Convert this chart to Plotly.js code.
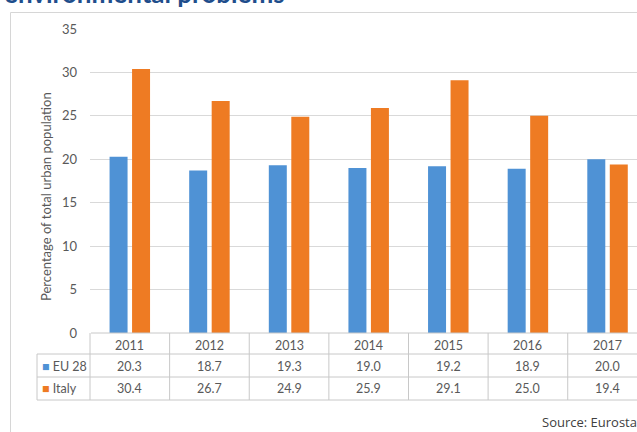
<!DOCTYPE html>
<html>
<head>
<meta charset="utf-8">
<script src="https://cdn.plot.ly/plotly-3.0.1.min.js"></script>
<style>html,body{margin:0;padding:0;background:#fff;overflow:hidden}#chart{width:637px;height:432px}</style>
</head>
<body>
<div id="chart"></div>
<script>
// ---- data ----
var years = ["2011", "2012", "2013", "2014", "2015", "2016", "2017"];
var eu28 = [20.3, 18.7, 19.3, 19.0, 19.2, 18.9, 20.0];
var italy = [30.4, 26.7, 24.9, 25.9, 29.1, 25.0, 19.4];
var seriesNames = ["EU 28", "Italy"];
var yTicks = [0, 5, 10, 15, 20, 25, 30, 35];

// ---- layout geometry ----
var W = 637, H = 432;
var mL = 90, mR = 0, mT = 29, mB = 99;
var PW = W - mL - mR, PH = H - mT - mB;
var xr = [-0.5, 6.37];
function pxX(px) { return (px - mL) / PW; }
function pxY(py) { return (mT + PH - py) / PH; }
function catX(c) { return (c - xr[0]) / (xr[1] - xr[0]); }

var blue = "#4f92d5", orange = "#ee7b23";
var txtCol = "#595959", lineCol = "#c8c8c8";
var fnt = "Lato, 'Open Sans', sans-serif";

var x = years.map(function (d, i) { return i; });

var traces = [
  { type: "bar", name: seriesNames[0], x: x, y: eu28, marker: { color: blue }, hoverinfo: "none" },
  { type: "bar", name: seriesNames[1], x: x, y: italy, marker: { color: orange }, hoverinfo: "none" }
];

var rowY = [333, 354, 377, 400];
var rowMid = [345, 366, 388.5];
var shapes = [];
// chart frame
shapes.push({ type: "rect", xref: "paper", yref: "paper", x0: pxX(10.5), x1: pxX(760), y0: pxY(500), y1: pxY(12.5),
  line: { color: "#d6d6d6", width: 1 }, fillcolor: "rgba(0,0,0,0)", layer: "below" });
// table horizontals
shapes.push({ type: "line", xref: "paper", yref: "paper", x0: pxX(91), x1: 1.05, y0: pxY(rowY[0]), y1: pxY(rowY[0]), line: { color: lineCol, width: 1 } });
for (var r = 1; r < rowY.length; r++) {
  shapes.push({ type: "line", xref: "paper", yref: "paper", x0: pxX(37), x1: 1.05, y0: pxY(rowY[r]), y1: pxY(rowY[r]), line: { color: lineCol, width: 1 } });
}
// table verticals
shapes.push({ type: "line", xref: "paper", yref: "paper", x0: pxX(37), x1: pxX(37), y0: pxY(rowY[1]), y1: pxY(rowY[3]), line: { color: lineCol, width: 1 } });
for (var k = 0; k <= years.length; k++) {
  var xp = catX(k - 0.5);
  if (xp > 1.01) continue;
  shapes.push({ type: "line", xref: "paper", yref: "paper", x0: xp, x1: xp, y0: pxY(rowY[0]), y1: pxY(rowY[3]), line: { color: lineCol, width: 1 } });
}

var ann = [];
// title (cut off at top, as in the reference crop)
ann.push({ xref: "paper", yref: "paper", x: pxX(2), y: pxY(10.5), xanchor: "left", yanchor: "bottom", showarrow: false,
  text: "<b>environmental problems</b>", font: { family: fnt, size: 26, color: "#1f4e8c" } });
// y-axis title
ann.push({ xref: "paper", yref: "paper", x: pxX(46), y: pxY(197), xanchor: "center", yanchor: "middle", showarrow: false,
  textangle: -90, text: "Percentage of total urban population", font: { family: fnt, size: 13, color: txtCol } });
// table contents
years.forEach(function (yv, i) {
  ann.push({ xref: "x", yref: "paper", x: i, y: pxY(rowMid[0]), xanchor: "center", yanchor: "middle", showarrow: false, text: yv, font: { family: fnt, size: 12.5, color: txtCol } });
  ann.push({ xref: "x", yref: "paper", x: i, y: pxY(rowMid[1]), xanchor: "center", yanchor: "middle", showarrow: false, text: eu28[i].toFixed(1), font: { family: fnt, size: 12.5, color: txtCol } });
  ann.push({ xref: "x", yref: "paper", x: i, y: pxY(rowMid[2]), xanchor: "center", yanchor: "middle", showarrow: false, text: italy[i].toFixed(1), font: { family: fnt, size: 12.5, color: txtCol } });
});
ann.push({ xref: "paper", yref: "paper", x: pxX(40), y: pxY(rowMid[1]), xanchor: "left", yanchor: "middle", showarrow: false,
  text: '<span style="color:' + blue + '">■</span> ' + seriesNames[0], font: { family: fnt, size: 12.5, color: txtCol } });
ann.push({ xref: "paper", yref: "paper", x: pxX(40), y: pxY(rowMid[2]), xanchor: "left", yanchor: "middle", showarrow: false,
  text: '<span style="color:' + orange + '">■</span> ' + seriesNames[1], font: { family: fnt, size: 12.5, color: txtCol } });
// source
ann.push({ xref: "paper", yref: "paper", x: pxX(540), y: pxY(422), xanchor: "left", yanchor: "middle", showarrow: false,
  text: "Source: Eurostat", font: { family: "'Open Sans', sans-serif", size: 13, color: "#404040" } });

var layout = {
  width: W, height: H,
  margin: { l: mL, r: mR, t: mT, b: mB, pad: 0 },
  paper_bgcolor: "#fff", plot_bgcolor: "#fff",
  showlegend: false,
  barmode: "group", bargap: 0.435, bargroupgap: 0.2,
  font: { family: fnt, color: txtCol },
  xaxis: { range: xr, showticklabels: false, showgrid: false, zeroline: false, showline: false, ticks: "", fixedrange: true },
  yaxis: { range: [0, 35], tickvals: yTicks, ticktext: yTicks.map(String), showgrid: true, gridcolor: "#d9d9d9", gridwidth: 1,
    zeroline: false, showline: false, ticks: "", ticklabelstandoff: 12, tickfont: { family: fnt, size: 13, color: txtCol }, fixedrange: true },
  shapes: shapes,
  annotations: ann
};

Plotly.newPlot("chart", traces, layout, { displayModeBar: false, staticPlot: true });
</script>
</body>
</html>
